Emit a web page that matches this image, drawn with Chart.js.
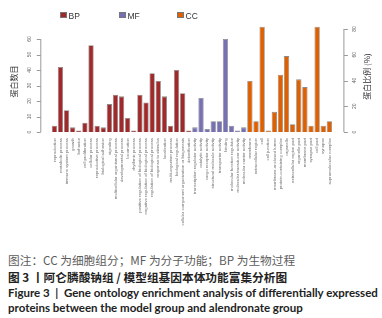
<!DOCTYPE html>
<html>
<head>
<meta charset="utf-8">
<script src="https://cdn.jsdelivr.net/npm/chart.js@4.4.1/dist/chart.umd.min.js"></script>
<style>
body { margin: 0; background: #fff; width: 382px; height: 318px; overflow: hidden; position: relative; }
#wrap { position: absolute; left: 0; top: 0; width: 382px; height: 240px; }
.key { position: absolute; top: 11px; font: 8.5px "Liberation Sans", Arial, sans-serif; color: #333; white-space: nowrap; }
.key i { display: inline-block; width: 4.5px; height: 4.5px; margin-right: 2px; vertical-align: 1px; border: 0.5px solid #777; }
.cap { position: absolute; left: 8px; white-space: pre; font-size: 11.5px; line-height: 14px; }
.zh { font-family: "Noto Sans CJK SC", sans-serif; font-size: 11.7px; }
.en { font-family: Lato, "Noto Sans", sans-serif; font-weight: bold; color: #222; }
</style>
</head>
<body>
<div id="wrap"><canvas id="goChart" width="382" height="240"></canvas></div>
<div id="keys"></div>
<div class="cap zh" style="top:253px;color:#5c5c5c">图注：CC 为细胞组分；MF 为分子功能；BP 为生物过程</div>
<div class="cap zh" style="top:270px;color:#222;font-weight:bold">图 3 丨阿仑膦酸钠组 / 模型组基因本体功能富集分析图</div>
<div class="cap en" style="top:286px">Figure 3  |  Gene ontology enrichment analysis of differentially expressed</div>
<div class="cap en" style="top:301px">proteins between the model group and alendronate group</div>
<script>
// GO terms and protein counts
const bpLabels = ["reproduction", "metabolic process", "immune system process", "growth", "behavior",
  "cell proliferation", "cellular process", "reproductive process", "biological adhesion", "signaling",
  "multicellular organismal process", "developmental process", "locomotion", "rhythmic process",
  "positive regulation of biological process", "negative regulation of biological process",
  "regulation of biological process", "response to stimulus", "localization", "multi-organism process",
  "biological regulation", "cellular component organization or biogenesis", "detoxification"];
const bpValues = [4, 42, 14, 3, 1, 6, 56, 4, 3, 18, 24, 23, 9, 1, 24, 19, 38, 33, 23, 4, 40, 25, 1];

const mfLabels = ["transcription regulator activity", "catalytic activity", "cargo receptor activity",
  "structural molecule activity", "transporter activity", "binding", "molecular function regulator",
  "molecular transducer activity", "molecular carrier activity"];
const mfValues = [3, 22, 2, 7, 7, 60, 4, 1, 3];

const ccLabels = ["membrane", "extracellular region", "cell", "cell junction", "membrane-enclosed lumen",
  "protein-containing complex", "organelle", "extracellular region part", "organelle part",
  "membrane part", "synapse part", "cell part", "synapse", "supramolecular complex"];
const ccValues = [33, 7, 68, 1, 13, 37, 49, 5, 34, 29, 4, 68, 4, 7];

const leftTicks = [0, 10, 20, 30, 40, 50, 60];
const rightTicks = [0, 20, 40, 60, 80];

const groupNames = ["BP", "MF", "CC"];
const groupColors = ["#a0292b", "#7670b5", "#de6000"];

const labels = bpLabels.concat(mfLabels, ccLabels);
const blanks = n => Array(n).fill(null);
const nb = bpValues.length, nm = mfValues.length, nc = ccValues.length;
const seriesData = [
  bpValues.concat(blanks(nm + nc)),
  blanks(nb).concat(mfValues, blanks(nc)),
  blanks(nb + nm).concat(ccValues)
];

// legend
const keyLeft = [60, 119, 177];
groupNames.forEach((g, i) => {
  const d = document.createElement("div");
  d.className = "key";
  d.style.left = keyLeft[i] + "px";
  d.innerHTML = '<i style="background:' + groupColors[i] + '"></i>' + g;
  document.getElementById("keys").appendChild(d);
});

// R-style side axes: line spans only the tick range
function sideAxis(ctx, scale, x, dir, ticks, title, titleGap) {
  ctx.save();
  const yA = scale.getPixelForValue(ticks[0]);
  const yB = scale.getPixelForValue(ticks[ticks.length - 1]);
  ctx.strokeStyle = "#9a9a9a";
  ctx.lineWidth = 1;
  ctx.beginPath();
  ctx.moveTo(x + 0.5, yA);
  ctx.lineTo(x + 0.5, yB);
  ticks.forEach(t => {
    const y = Math.round(scale.getPixelForValue(t)) + 0.5;
    ctx.moveTo(x + 0.5, y);
    ctx.lineTo(x + 0.5 + dir * 4, y);
  });
  ctx.stroke();

  ctx.fillStyle = "#666";
  ctx.font = '5px "Liberation Sans"';
  ctx.textAlign = "center";
  ctx.textBaseline = "middle";
  ticks.forEach(t => {
    ctx.save();
    ctx.translate(x + dir * 11, scale.getPixelForValue(t));
    ctx.rotate(-Math.PI / 2);
    ctx.fillText(String(t), 0, 0);
    ctx.restore();
  });

  ctx.fillStyle = "#333";
  ctx.font = '8px "Noto Sans CJK SC"';
  ctx.translate(x + dir * titleGap, (yA + yB) / 2 - 4);
  ctx.rotate(-Math.PI / 2);
  ctx.fillText(title, 0, 0);
  ctx.restore();
}

const sideAxes = {
  id: "sideAxes",
  afterDraw(chart) {
    const { ctx, chartArea } = chart;
    sideAxis(ctx, chart.scales.y, chartArea.left - 11, -1, leftTicks, "蛋白数目", 26);
    sideAxis(ctx, chart.scales.y2, chartArea.right + 11, 1, rightTicks, "蛋白比例 (%)", 24);
  }
};

new Chart(document.getElementById("goChart"), {
  type: "bar",
  data: {
    labels: labels,
    datasets: groupNames.map((g, i) => ({
      label: g,
      data: seriesData[i],
      backgroundColor: groupColors[i],
      borderColor: "#8a8a8a",
      borderWidth: 0.8,
      grouped: false,
      categoryPercentage: 1,
      barPercentage: 0.87,
      yAxisID: "y"
    }))
  },
  options: {
    responsive: false,
    animation: false,
    layout: { padding: { left: 51.3, right: 49.6, top: 20, bottom: 0 } },
    plugins: { legend: { display: false }, tooltip: { enabled: false } },
    scales: {
      x: {
        grid: { display: false, drawTicks: false },
        border: { display: false },
        ticks: {
          autoSkip: false, minRotation: 90, maxRotation: 90, padding: 6,
          color: "#707070", font: { size: 4.3, family: '"Liberation Sans"' }
        },
        afterFit(s) { s.height = 108; }
      },
      y: { display: false, min: 0, max: 72.3 },
      y2: { display: false, min: 0, max: 87 }
    }
  },
  plugins: [sideAxes]
});
</script>
</body>
</html>
